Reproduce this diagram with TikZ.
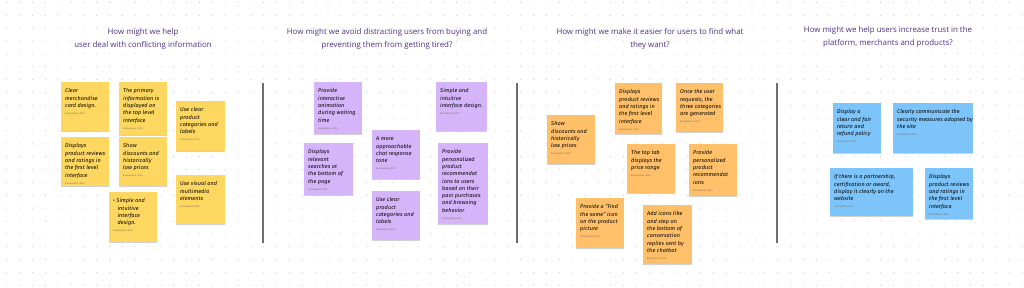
\documentclass[tikz,border=0pt]{standalone}
\usepackage{fontspec}
\setmainfont{Open Sans}
\newfontfamily\handfont{Fira Sans}[LetterSpace=1.5]
\usepackage{xcolor}
\usetikzlibrary{positioning,shadows}
\definecolor{noteyellow}{RGB}{253,215,96}
\definecolor{notepurple}{RGB}{214,180,250}
\definecolor{noteorange}{RGB}{255,192,105}
\definecolor{noteblue}{RGB}{125,196,250}
\definecolor{headpurple}{RGB}{80,50,128}
\definecolor{dotgrey}{RGB}{200,200,204}
\definecolor{stampgrey}{RGB}{120,110,90}
\definecolor{rulegrey}{RGB}{110,110,110}
\newcommand{\notebody}[3]{%
  \parbox[c][\dimexpr#2pt-10pt\relax][t]{\dimexpr#1pt-8pt\relax}{%
  \begin{tabular}[t]{@{}l@{}}#3\end{tabular}\par\vspace{2.4pt}%
  {\fontsize{2.4}{3}\selectfont\upshape\color{stampgrey}Anonymous, 2023}}}

\begin{document}
\begin{tikzpicture}[x=1pt,y=-1pt,
    note/.style={fill=#1,anchor=north west,inner xsep=4pt,inner ysep=5.5pt,
      font=\handfont\itshape\fontsize{5.5}{7.3}\selectfont,text=black,
      drop shadow={shadow xshift=0pt,shadow yshift=-0.8pt,opacity=0.18,fill=black}},
    question/.style={align=center,text=headpurple,font=\fontsize{7.9}{12.7}\selectfont},
    divider/.style={draw=rulegrey,line width=1.1pt}]
    \useasboundingbox[fill=white] (0,0) rectangle (1024,287);
    \foreach \i in {0,...,79}
      \foreach \j in {0,...,22}
        \fill[dotgrey] (6.7+12.85*\i,2.5+12.85*\j) circle (0.55pt);

    \node[question] (q1) at (143,38.7) {How might we help\\user deal with conflicting information};
    \node[question] (q2) at (387,38.7) {How might we avoid distracting users from buying and\\preventing them from getting tired?};
    \node[question] (q3) at (650,38.7) {How might we make it easier for users to find what\\they want?};
    \node[question] (q4) at (888,37) {How might we help users increase trust in the\\platform, merchants and products?};

    \coordinate (d1a) at (263,83); \coordinate (d1b) at (263,243);
    \coordinate (d2a) at (517,83); \coordinate (d2b) at (517,243);
    \coordinate (d3a) at (777,83); \coordinate (d3b) at (777,243);
    \draw[divider] (d1a) -- (d1b);
    \draw[divider] (d2a) -- (d2b);
    \draw[divider] (d3a) -- (d3b);

    \node[note=noteyellow] (y1) at (61,82) {\notebody{48}{48}{Clear\\merchandise\\card design.}};
    \node[note=noteyellow] (y2) at (119,82) {\notebody{48}{52}{The primary\\information is\\displayed on\\the top level\\interface}};
    \node[note=noteyellow] (y3) at (61,137) {\notebody{48}{48}{Displays\\product reviews\\and ratings in\\the first level\\interface}};
    \node[note=noteyellow] (y4) at (119,137) {\notebody{48}{48}{Show\\discounts and\\historically\\low prices}};
    \node[note=noteyellow] (y5) at (109,192) {\notebody{48}{49}{\textbullet~Simple and\\\hspace{4.4pt}intuitive\\\hspace{4.4pt}interface\\\hspace{4.4pt}design.}};
    \node[note=noteyellow] (y6) at (176,101) {\notebody{49}{49}{Use clear\\product\\categories and\\labels}};
    \node[note=noteyellow] (y7) at (176,175) {\notebody{49}{48}{Use visual and\\multimedia\\elements}};

    \node[note=notepurple] (p1) at (314,82) {\notebody{48}{51}{Provide\\interactive\\animation\\during waiting\\time}};
    \node[note=notepurple] (p2) at (372,130) {\notebody{48}{48}{A more\\approachable\\chat response\\tone}};
    \node[note=notepurple] (p3) at (304,143) {\notebody{49}{51}{Displays\\relevant\\searches at\\the bottom of\\the page}};
    \node[note=notepurple] (p4) at (372,191) {\notebody{48}{48}{Use clear\\product\\categories and\\labels}};
    \node[note=notepurple] (p5) at (436,82) {\notebody{51}{48}{Simple and\\intuitive\\interface design.}};
    \node[note=notepurple] (p6) at (438,143) {\notebody{50}{80}{Provide\\personalized\\product\\recommendat\\ions to users\\based on their\\past purchases\\and browsing\\behavior}};

    \node[note=noteorange] (o1) at (547,115) {\notebody{48}{48}{Show\\discounts and\\historically\\low prices}};
    \node[note=noteorange] (o2) at (615,83) {\notebody{47}{50}{Displays\\product reviews\\and ratings in\\the first level\\interface}};
    \node[note=noteorange] (o3) at (627,144) {\notebody{48}{48}{The top tab\\displays the\\price range}};
    \node[note=noteorange] (o4) at (576,198) {\notebody{48}{49}{Provide a “Find\\the same” icon\\on the product\\picture}};
    \node[note=noteorange] (o5) at (676,83) {\notebody{47}{48}{Once the user\\requests, the\\three categories\\are generated}};
    \node[note=noteorange] (o6) at (689,144) {\notebody{48}{51}{Provide\\personalized\\product\\recommendat\\ions}};
    \node[note=noteorange] (o7) at (643,205) {\notebody{49}{58}{Add icons like\\and step on\\the bottom of\\conversation\\replies sent by\\the chatbot}};

    \node[note=noteblue] (b1) at (833,103) {\notebody{48}{49}{Display a\\clear and fair\\return and\\refund policy}};
    \node[note=noteblue] (b2) at (893,103) {\notebody{80}{49}{Clearly communicate the\\security measures adopted by\\the site}};
    \node[note=noteblue] (b3) at (830,168) {\notebody{83}{47}{If there is a partnership,\\certification or award,\\display it clearly on the\\website}};
    \node[note=noteblue] (b4) at (925,168) {\notebody{48}{50}{Displays\\product reviews\\and ratings in\\the first level\\interface}};
  \end{tikzpicture}
\end{document}
